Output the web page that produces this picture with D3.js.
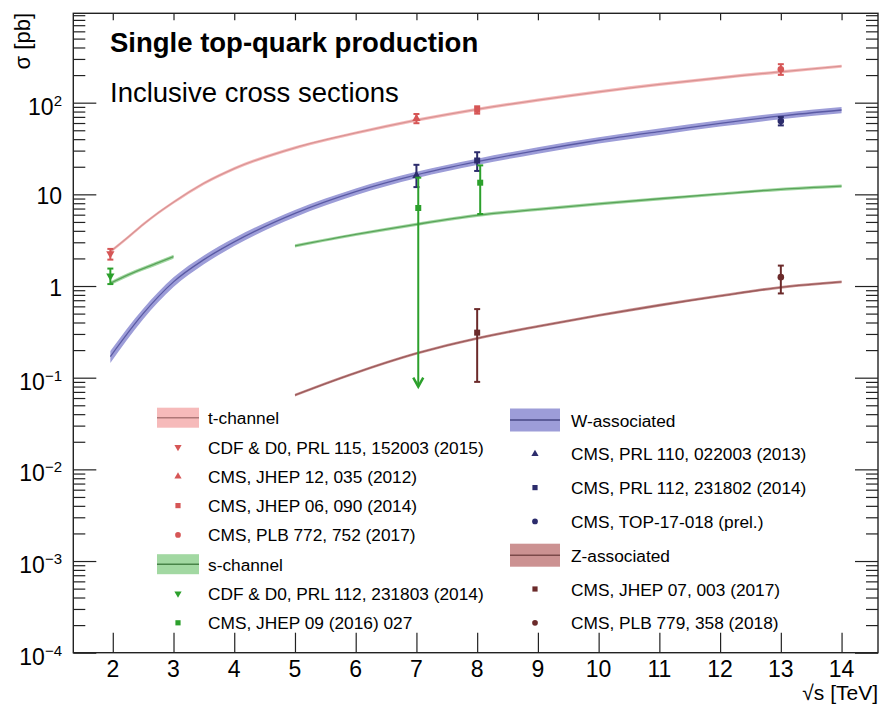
<!DOCTYPE html>
<html>
<head>
<meta charset="utf-8">
<script src="https://cdn.jsdelivr.net/npm/d3@7"></script>
<style>
  body { margin: 0; background: #fff; }
  svg text { font-family: "Liberation Sans", Arial, Helvetica, sans-serif; fill: #000; }
</style>
</head>
<body>
<svg id="chart" width="880" height="714"></svg>
<script>
// ---- Theory predictions: sqrt(s) [TeV] and cross section [pb], relative band half-width ----
const tChanX   = [1.96, 2.25, 2.5, 2.75, 3, 3.5, 4, 5, 6, 7, 8, 9, 10, 11, 12, 13, 14];
const tChanY   = [2.37, 3.4, 4.7, 6.3, 8.2, 13.2, 19.1, 32.2, 46.7, 64.6, 84.7, 106.7, 131.5, 158.5, 187, 217, 250];
const tChanErr = [0.04, 0.04, 0.04, 0.04, 0.04, 0.04, 0.04, 0.04, 0.04, 0.04, 0.04, 0.04, 0.04, 0.04, 0.04, 0.04, 0.04];

const tWX   = [1.96, 2.5, 3, 3.5, 4, 5, 6, 7, 8, 9, 10, 11, 12, 13, 14];
const tWY   = [0.17, 0.5, 1.11, 1.94, 3.03, 6.2, 10.7, 16.3, 22.7, 30.2, 38.9, 48.4, 59.6, 71.6, 83.2];
const tWErr = [0.15, 0.13, 0.12, 0.11, 0.1, 0.09, 0.085, 0.08, 0.08, 0.08, 0.08, 0.08, 0.08, 0.08, 0.08];

const sTevX   = [1.96, 2.25, 2.5, 2.75, 3.0];
const sTevY   = [1.07, 1.32, 1.55, 1.80, 2.09];
const sTevErr = [0.05, 0.05, 0.05, 0.05, 0.05];

const sLhcX   = [5, 6, 7, 8, 9, 10, 11, 12, 13, 14];
const sLhcY   = [2.74, 3.65, 4.71, 5.9, 6.86, 7.87, 8.95, 10.1, 11.35, 12.3];
const sLhcErr = [0.04, 0.04, 0.04, 0.04, 0.04, 0.04, 0.04, 0.04, 0.04, 0.04];

const tZX   = [5, 6, 7, 8, 9, 10, 11, 12, 13, 14];
const tZY   = [0.0647, 0.113, 0.184, 0.269, 0.363, 0.479, 0.617, 0.78, 0.968, 1.11];
const tZErr = [0.035, 0.035, 0.035, 0.035, 0.035, 0.035, 0.035, 0.035, 0.035, 0.035];

// ---- Measurements: sqrt(s), value, +err, -err [pb] ----
const tChanMeas = [
  { x: 1.96, v: 2.25, up: 0.29, dn: 0.31, shape: "down" },
  { x: 7,    v: 67.2, up: 8.0,  dn: 7.5,  shape: "up" },
  { x: 8,    v: 83.6, up: 7.7,  dn: 7.7,  shape: "square" },
  { x: 13,   v: 232,  up: 31,   dn: 31,   shape: "circle" }
];
const sChanMeas = [
  { x: 1.96, v: 1.29, up: 0.26, dn: 0.24, shape: "down" },
  { x: 7.03, v: 7.1,  up: 8.1,  arrowTo: 0.08, shape: "square" },
  { x: 8.05, v: 13.4, up: 7.3,  dn: 7.3,  shape: "square" }
];
const tWMeas = [
  { x: 7,  v: 16,   up: 5,   dn: 4,   shape: "up" },
  { x: 8,  v: 23.4, up: 5.4, dn: 5.4, shape: "square" },
  { x: 13, v: 63.1, up: 6.6, dn: 6.6, shape: "circle" }
];
const tZMeas = [
  { x: 8,  v: 0.31, up: 0.25, dn: 0.22, shape: "square" },
  { x: 13, v: 1.25, up: 0.42, dn: 0.42, shape: "circle" }
];

// ---- Axis ticks ----
const xTicks = [2, 3, 4, 5, 6, 7, 8, 9, 10, 11, 12, 13, 14];
const yMajor = [1e-4, 1e-3, 1e-2, 1e-1, 1, 10, 100];
const yLabelBase = ["10", "10", "10", "10", "1", "10", "10"];
const yLabelExp  = ["\u22124", "\u22123", "\u22122", "\u22121", "", "", "2"];

// ---- Legend text ----
const legendLeft = [
  { kind: "band", series: "t", label: "t-channel" },
  { kind: "mark", series: "t", shape: "down",   label: "CDF & D0, PRL 115, 152003 (2015)" },
  { kind: "mark", series: "t", shape: "up",     label: "CMS, JHEP 12, 035 (2012)" },
  { kind: "mark", series: "t", shape: "square", label: "CMS, JHEP 06, 090 (2014)" },
  { kind: "mark", series: "t", shape: "circle", label: "CMS, PLB 772, 752 (2017)" },
  { kind: "band", series: "s", label: "s-channel" },
  { kind: "mark", series: "s", shape: "down",   label: "CDF & D0, PRL 112, 231803 (2014)" },
  { kind: "mark", series: "s", shape: "square", label: "CMS, JHEP 09 (2016) 027" }
];
const legendRight = [
  { kind: "band", series: "w", label: "W-associated" },
  { kind: "mark", series: "w", shape: "up",     label: "CMS, PRL 110, 022003 (2013)" },
  { kind: "mark", series: "w", shape: "square", label: "CMS, PRL 112, 231802 (2014)" },
  { kind: "mark", series: "w", shape: "circle", label: "CMS, TOP-17-018 (prel.)" },
  { kind: "band", series: "z", label: "Z-associated" },
  { kind: "mark", series: "z", shape: "square", label: "CMS, JHEP 07, 003 (2017)" },
  { kind: "mark", series: "z", shape: "circle", label: "CMS, PLB 779, 358 (2018)" }
];

// ---- Styles per process ----
const style = {
  t: { band: "#f6baba", line: "#d89494", mark: "#d65656" },
  w: { band: "#9d9dd8", line: "#5a5aa4", mark: "#2c2c6c" },
  s: { band: "#a2d8a2", line: "#5aa35a", mark: "#2ca02c" },
  z: { band: "#cc9292", line: "#9a5c5c", mark: "#6b2a2a" }
};

const svg = d3.select("#chart");
const L = 73.3, R = 878, T = 13.3, B = 652.7;

const x = d3.scaleLinear().domain([1.35, 14.6]).range([L, R]);
const y = d3.scaleLog().domain([1e-4, 944]).range([B, T]);

const plot = svg.append("g");

// ---- Theory bands and central lines ----
function drawCurve(xs, ys, errs, key) {
  const pts = xs.map((d, i) => ({ x: d, v: ys[i], e: errs[i] }));
  const area = d3.area()
    .x(d => x(d.x))
    .y0(d => y(d.v * (1 - d.e)))
    .y1(d => y(d.v * (1 + d.e)))
    .curve(d3.curveMonotoneX);
  const line = d3.line()
    .x(d => x(d.x))
    .y(d => y(d.v))
    .curve(d3.curveMonotoneX);
  plot.append("path").attr("d", area(pts)).attr("fill", style[key].band).attr("stroke", "none");
  plot.append("path").attr("d", line(pts)).attr("fill", "none")
    .attr("stroke", style[key].line).attr("stroke-width", 1.3);
}
drawCurve(tChanX, tChanY, tChanErr, "t");
drawCurve(tWX, tWY, tWErr, "w");
drawCurve(sTevX, sTevY, sTevErr, "s");
drawCurve(sLhcX, sLhcY, sLhcErr, "s");
drawCurve(tZX, tZY, tZErr, "z");

// ---- Markers ----
function markerPath(shape, scale) {
  const k = scale || 1;
  if (shape === "square") return d3.symbol(d3.symbolSquare, 36 * k)();
  if (shape === "circle") return d3.symbol(d3.symbolCircle, 34 * k)();
  return d3.symbol(d3.symbolTriangle, 30 * k)();
}
function drawMarker(g, cx, cy, shape, color, scale) {
  g.append("path")
    .attr("d", markerPath(shape, scale))
    .attr("transform", `translate(${cx},${cy})` + (shape === "down" ? " rotate(180)" : ""))
    .attr("fill", color);
}

function drawMeasurements(list, key) {
  const col = style[key].mark;
  const g = plot.append("g");
  list.forEach(d => {
    const cx = x(d.x);
    const yTop = y(d.v + d.up);
    const yBot = d.arrowTo ? y(d.arrowTo) : y(d.v - d.dn);
    g.append("line").attr("x1", cx).attr("x2", cx).attr("y1", yTop).attr("y2", yBot)
      .attr("stroke", col).attr("stroke-width", 2);
    g.append("line").attr("x1", cx - 3).attr("x2", cx + 3).attr("y1", yTop).attr("y2", yTop)
      .attr("stroke", col).attr("stroke-width", 2);
    if (d.arrowTo) {
      g.append("path")
        .attr("d", `M${cx - 5},${yBot - 9} L${cx},${yBot} L${cx + 5},${yBot - 9}`)
        .attr("fill", "none").attr("stroke", col).attr("stroke-width", 2.5)
        .attr("stroke-linejoin", "miter");
    } else {
      g.append("line").attr("x1", cx - 3).attr("x2", cx + 3).attr("y1", yBot).attr("y2", yBot)
        .attr("stroke", col).attr("stroke-width", 2);
    }
    drawMarker(g, cx, y(d.v), d.shape, col, 1);
  });
}
drawMeasurements(tZMeas, "z");
drawMeasurements(tChanMeas, "t");
drawMeasurements(tWMeas, "w");
drawMeasurements(sChanMeas, "s");

// ---- Frame and axes ----
const axisCol = "#222";
const yMinor = [];
for (let e = -4; e <= 2; e++) {
  for (let m = 2; m <= 9; m++) {
    const v = m * Math.pow(10, e);
    if (v < 944) yMinor.push(v);
  }
}

function styleAxis(g) {
  g.select(".domain").remove();
  g.selectAll(".tick line").attr("stroke", axisCol).attr("stroke-width", 1.2);
  g.selectAll(".tick text").remove();
}

svg.append("g").attr("transform", `translate(${L},0)`)
  .call(d3.axisRight(y).tickValues(yMajor).tickSize(23).tickFormat(""))
  .call(styleAxis);
svg.append("g").attr("transform", `translate(${L},0)`)
  .call(d3.axisRight(y).tickValues(yMinor).tickSize(12).tickFormat(""))
  .call(styleAxis);
svg.append("g").attr("transform", `translate(${R},0)`)
  .call(d3.axisLeft(y).tickValues(yMajor).tickSize(23).tickFormat(""))
  .call(styleAxis);
svg.append("g").attr("transform", `translate(${R},0)`)
  .call(d3.axisLeft(y).tickValues(yMinor).tickSize(12).tickFormat(""))
  .call(styleAxis);
svg.append("g").attr("transform", `translate(0,${B})`)
  .call(d3.axisTop(x).tickValues(xTicks).tickSize(20).tickFormat(""))
  .call(styleAxis);
svg.append("g").attr("transform", `translate(0,${T})`)
  .call(d3.axisBottom(x).tickValues(xTicks).tickSize(7).tickFormat(""))
  .call(styleAxis);

svg.append("rect").attr("x", L).attr("y", T).attr("width", R - L).attr("height", B - T)
  .attr("fill", "none").attr("stroke", axisCol).attr("stroke-width", 1.4);

// x tick labels
svg.append("g").selectAll("text").data(xTicks).join("text")
  .attr("x", d => x(d)).attr("y", B + 24)
  .attr("text-anchor", "middle").attr("font-size", 23)
  .text(d => d);

// y tick labels with exponents
const yl = svg.append("g").selectAll("text").data(yMajor).join("text")
  .attr("x", 62).attr("y", d => y(d) + (d >= 1 && d < 100 ? 10 : 12))
  .attr("text-anchor", "end").attr("font-size", 23);
yl.append("tspan").text((d, i) => yLabelBase[i]);
yl.append("tspan").attr("font-size", 15).attr("dy", -9).text((d, i) => yLabelExp[i]);

// axis titles
svg.append("text").attr("x", 878).attr("y", 700).attr("text-anchor", "end")
  .attr("font-size", 21).text("\u221As [TeV]");
svg.append("text").attr("transform", "translate(30,13) rotate(-90)")
  .attr("text-anchor", "end").attr("font-size", 22).text("\u03c3 [pb]");

// titles
svg.append("text").attr("x", 110).attr("y", 52).attr("font-size", 27.5)
  .attr("font-weight", "bold").text("Single top-quark production");
svg.append("text").attr("x", 110).attr("y", 102).attr("font-size", 27.5)
  .text("Inclusive cross sections");

// ---- Legends ----
function drawLegend(entries, opt) {
  const g = svg.append("g");
  entries.forEach((e, i) => {
    const cy = opt.y0 + i * opt.step;
    const st = style[e.series];
    if (e.kind === "band") {
      g.append("rect").attr("x", opt.sx).attr("y", cy - opt.sh / 2)
        .attr("width", opt.sw).attr("height", opt.sh).attr("fill", st.band);
      g.append("line").attr("x1", opt.sx).attr("x2", opt.sx + opt.sw)
        .attr("y1", cy).attr("y2", cy).attr("stroke", d3.color(st.line).darker(0.6)).attr("stroke-width", 1.6);
    } else {
      drawMarker(g, opt.sx + opt.sw / 2, cy, e.shape, st.mark, 0.75);
    }
    g.append("text").attr("x", opt.tx).attr("y", cy + 6.5)
      .attr("font-size", 17.3).text(e.label);
  });
}
drawLegend(legendLeft,  { sx: 157, sw: 42, sh: 20, tx: 208, y0: 417.7, step: 29.3 });
drawLegend(legendRight, { sx: 510, sw: 50, sh: 23, tx: 571, y0: 420,   step: 33.8 });
</script>
</body>
</html>
